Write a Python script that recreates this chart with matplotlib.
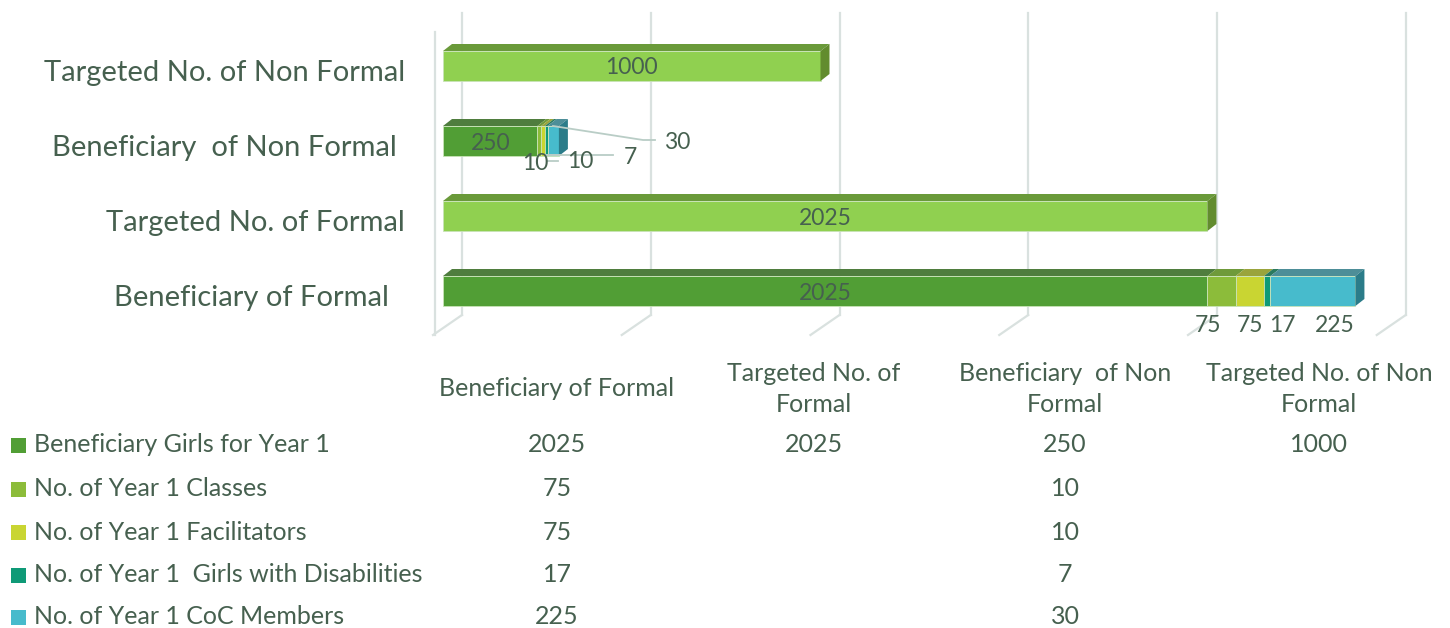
import matplotlib.pyplot as plt
from matplotlib.patches import Polygon, Rectangle
import numpy as np

# Data (categories bottom -> top as drawn in the chart)
categories = ['Beneficiary of Formal  ', 'Targeted No. of Formal',
              'Beneficiary  of Non Formal ', 'Targeted No. of Non Formal']
table_headers = ['Beneficiary of Formal', 'Targeted No. of\nFormal',
                 'Beneficiary  of Non\nFormal', 'Targeted No. of Non\nFormal']
series_names = ['Beneficiary Girls for Year 1', 'No. of Year 1 Classes',
                'No. of Year 1 Facilitators', 'No. of Year 1  Girls with Disabilities',
                'No. of Year 1 CoC Members']
girls = [2025, 2025, 250, 1000]
classes = [75, None, 10, None]
facilitators = [75, None, 10, None]
disabilities = [17, None, 7, None]
coc = [225, None, 30, None]
series_values = [girls, classes, facilitators, disabilities, coc]

# Styling
TEXT = '#46604f'
GRID = '#d9e1df'
colors = ['#519e35', '#8cbc3a', '#c9d532', '#0f9a77', '#47bbcc']
tops = ['#4f7d3e', '#6f9a3a', '#9aa43c', '#2a7a5f', '#4d8e98']
sides = ['#3f7a2a', '#6e9a2c', '#a0aa25', '#0b7a5e', '#2b7c89']
target_face, target_top, target_side = '#90d050', '#6a9a3a', '#628c2e'

plt.rcParams['font.family'] = ['Lato', 'DejaVu Sans']

W, H = 1450, 628
fig = plt.figure(figsize=(W / 100, H / 100), dpi=100)
fig.patch.set_facecolor('white')

# Axes: value 0 sits at x=443px, 0.3775 px per unit, 75 px per category
x0_px, sx = 443, 0.3775
ax = fig.add_axes([x0_px / W, 0, 1 - x0_px / W, 1])
ax.set_xlim(0, (W - x0_px) / sx)
cat0_px = 291
ax.set_ylim((cat0_px - H) / 75, cat0_px / 75)
ax.axis('off')

UX = 1 / sx      # value units per pixel
UY = 1 / 75      # category units per pixel


def py(p):
    # pixel row -> data y
    return (cat0_px - p) / 75


# back wall gridlines and floor diagonals
back_dx = 19 * UX
for v in np.arange(0, 2501, 500):
    ax.plot([v + back_dx, v + back_dx], [py(315), py(13)], color=GRID, lw=1.6,
            clip_on=False, zorder=0)
    ax.plot([v - 10 * UX, v + back_dx], [py(335), py(315)], color=GRID, lw=1.6,
            clip_on=False, zorder=0)
ax.plot([-8 * UX, -8 * UX], [py(335), py(32)], color=GRID, lw=1.6, clip_on=False, zorder=0)

# 3D stacked bars
bh = 0.4
ddx, ddy = 9 * UX, 7 * UY
ypos = np.arange(len(categories))
for i, y in enumerate(ypos):
    left = 0
    segs = []
    for k, vals in enumerate(series_values):
        v = vals[i]
        if v is None:
            continue
        if k == 0 and categories[i].startswith('Targeted'):
            face, top, side = target_face, target_top, target_side
        else:
            face, top, side = colors[k], tops[k], sides[k]
        segs.append((left, v, face, top, side))
        left += v
    for j, (l, v, face, top, side) in enumerate(segs):
        ax.add_patch(Rectangle((l, y - bh / 2), v, bh, facecolor=face,
                               edgecolor='#c9e3b8', lw=0.6, zorder=3))
        ax.add_patch(Polygon([(l, y + bh / 2), (l + ddx, y + bh / 2 + ddy),
                              (l + v + ddx, y + bh / 2 + ddy), (l + v, y + bh / 2)],
                             facecolor=top, edgecolor='none', zorder=3))
        if j == len(segs) - 1:
            r = l + v
            ax.add_patch(Polygon([(r, y - bh / 2), (r, y + bh / 2),
                                  (r + ddx, y + bh / 2 + ddy), (r + ddx, y - bh / 2 + ddy)],
                                 facecolor=side, edgecolor='none', zorder=3))

# data labels inside main segments
label_kw = dict(color=TEXT, fontsize=16.5, ha='center', va='center', zorder=5)
for i, y in enumerate(ypos):
    v = girls[i]
    ax.text(v / 2, y - 2 * UY, str(v), **label_kw)

# small labels for Beneficiary of Formal (below bar)
start = girls[0]
formal_offsets = [-14, 0, 15, 22]   # px shift of label from segment centre
for k, vals in enumerate(series_values[1:]):
    v = vals[0]
    cx = start + v / 2
    ax.text(cx + formal_offsets[k] * UX, py(325), str(v), **label_kw)
    start += v

# small labels for Beneficiary of Non Formal with leader lines
start = girls[2]
nf_text_px = [(535, 163), (580, 161), (630, 157), (677, 142)]
nf_line_px = [[(547, 161), (558, 161)], [(545, 155), (560, 155)],
              [(545, 155), (613, 155)], [(553, 126), (643, 140), (655, 140)]]
for k, vals in enumerate(series_values[1:]):
    v = vals[2]
    tx, ty = nf_text_px[k]
    ax.text((tx - x0_px) * UX, py(ty), str(v), **label_kw)
    pts = nf_line_px[k]
    ax.plot([(p[0] - x0_px) * UX for p in pts], [py(p[1]) for p in pts],
            color='#b9cdc6', lw=1.3, zorder=4, clip_on=False)
    start += v

# category labels
cat_right_px = [389, 405, 397, 405]
for i, y in enumerate(ypos):
    ax.text((cat_right_px[i] - x0_px) * UX, y - 7 * UY, categories[i].strip(), color=TEXT,
            fontsize=21, ha='right', va='center', clip_on=False)

# data table
col_px = [557, 814, 1065, 1319]
for c, hdr in enumerate(table_headers):
    fig.text(col_px[c] / W, 1 - 389 / H, hdr, color=TEXT, fontsize=18,
             ha='center', va='center', linespacing=1.45)
row_px = [445, 489, 532, 575, 617]
for r, name in enumerate(series_names):
    yy = 1 - row_px[r] / H
    fig.patches.append(Rectangle((11 / W, yy - 7.5 / H), 15 / W, 15 / H, facecolor=colors[r],
                                 edgecolor='none', transform=fig.transFigure, figure=fig))
    fig.text(34 / W, yy, name, color=TEXT, fontsize=18, ha='left', va='center')
    for c in range(len(categories)):
        v = series_values[r][c]
        if v is not None:
            fig.text(col_px[c] / W, yy, str(v), color=TEXT, fontsize=18,
                     ha='center', va='center')

fig.savefig('out.png', dpi=100, facecolor='white')
